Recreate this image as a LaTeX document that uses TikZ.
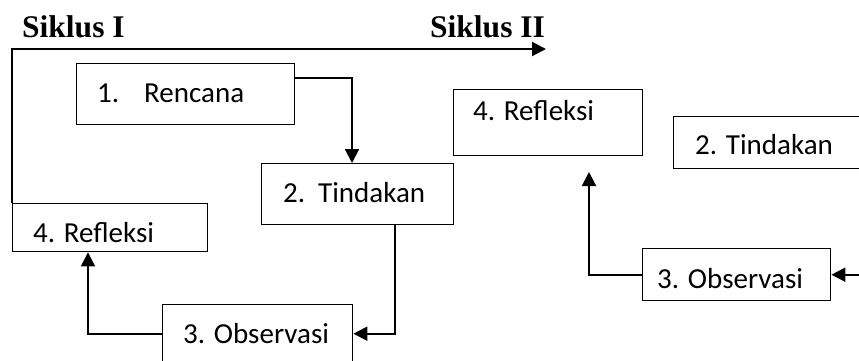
\documentclass[tikz,border=0pt]{standalone}
\usepackage{fontspec}
\setmainfont{Liberation Serif}
\newfontfamily\boxfont{Carlito}
\usetikzlibrary{arrows.meta,calc}
\begin{document}
\begin{tikzpicture}[x=1pt,y=-1pt,
  box/.style={draw, line width=1.4pt, inner sep=0pt, anchor=north west},
  lbl/.style={anchor=base west, inner sep=0pt, font=\boxfont\fontsize{29}{31}\selectfont},
  head/.style={anchor=base west, inner sep=0pt, font=\bfseries\fontsize{31.5}{34}\selectfont},
  conn/.style={line width=2pt},
  arr/.style={conn, -{Triangle[length=14pt,width=14pt]}}]

% page frame
\fill[white] (0,0) rectangle (859,360);
\clip (0,0) rectangle (859,360);

% headings
\node[head] (s1) at (22,37) {Siklus I};
\node[head] (s2) at (430,37) {Siklus II};

% cycle I
\node[box, minimum width=218pt, minimum height=61pt] (ren) at (76,63) {};
\node[lbl] (renT) at (97,102) {1.\hspace{25pt}Rencana};

\node[box, minimum width=192pt, minimum height=61pt] (tin) at (261,163) {};
\node[lbl] (tinT) at (283,202) {2.\hspace{13pt}Tindakan};

\node[box, minimum width=195pt, minimum height=48pt] (ref1) at (12,203) {};
\node[lbl] (ref1T) at (33,242) {4. Refleksi};

\node[box, minimum width=190pt, minimum height=58pt] (obs1) at (162,304) {};
\node[lbl] (obs1T) at (183,343) {3. Observasi};

% cycle II
\node[box, minimum width=189pt, minimum height=66pt] (ref2) at (453,89) {};
\node[lbl] (ref2T) at (473,120) {4. Refleksi};

\node[box, minimum width=200pt, minimum height=52pt] (tin2) at (673,116) {};
\node[lbl] (tin2T) at (695,154) {2. Tindakan};

\node[box, minimum width=188pt, minimum height=52pt] (obs2) at (642,248) {};
\node[lbl] (obs2T) at (657,288) {3. Observasi};

% connectors
\coordinate (cycEnd) at (546,49);
\draw[arr] (ref1.north west) |- (cycEnd);
\draw[arr] ($(ren.north east)+(0,15)$) -| ($(tin.north west)+(91,0)$);
\draw[arr] ($(tin.south west)+(134,0)$) |- (obs1.east);
\draw[arr] (obs1.west) -| ($(ref1.south west)+(76,0)$);

\coordinate (inR) at ($(obs2.east)+(45,0)$);
\draw[arr] (inR) -- (obs2.east);
\coordinate (r2tip) at (589,172);
\draw[arr] (obs2.west) -| (r2tip);
\end{tikzpicture}
\end{document}
